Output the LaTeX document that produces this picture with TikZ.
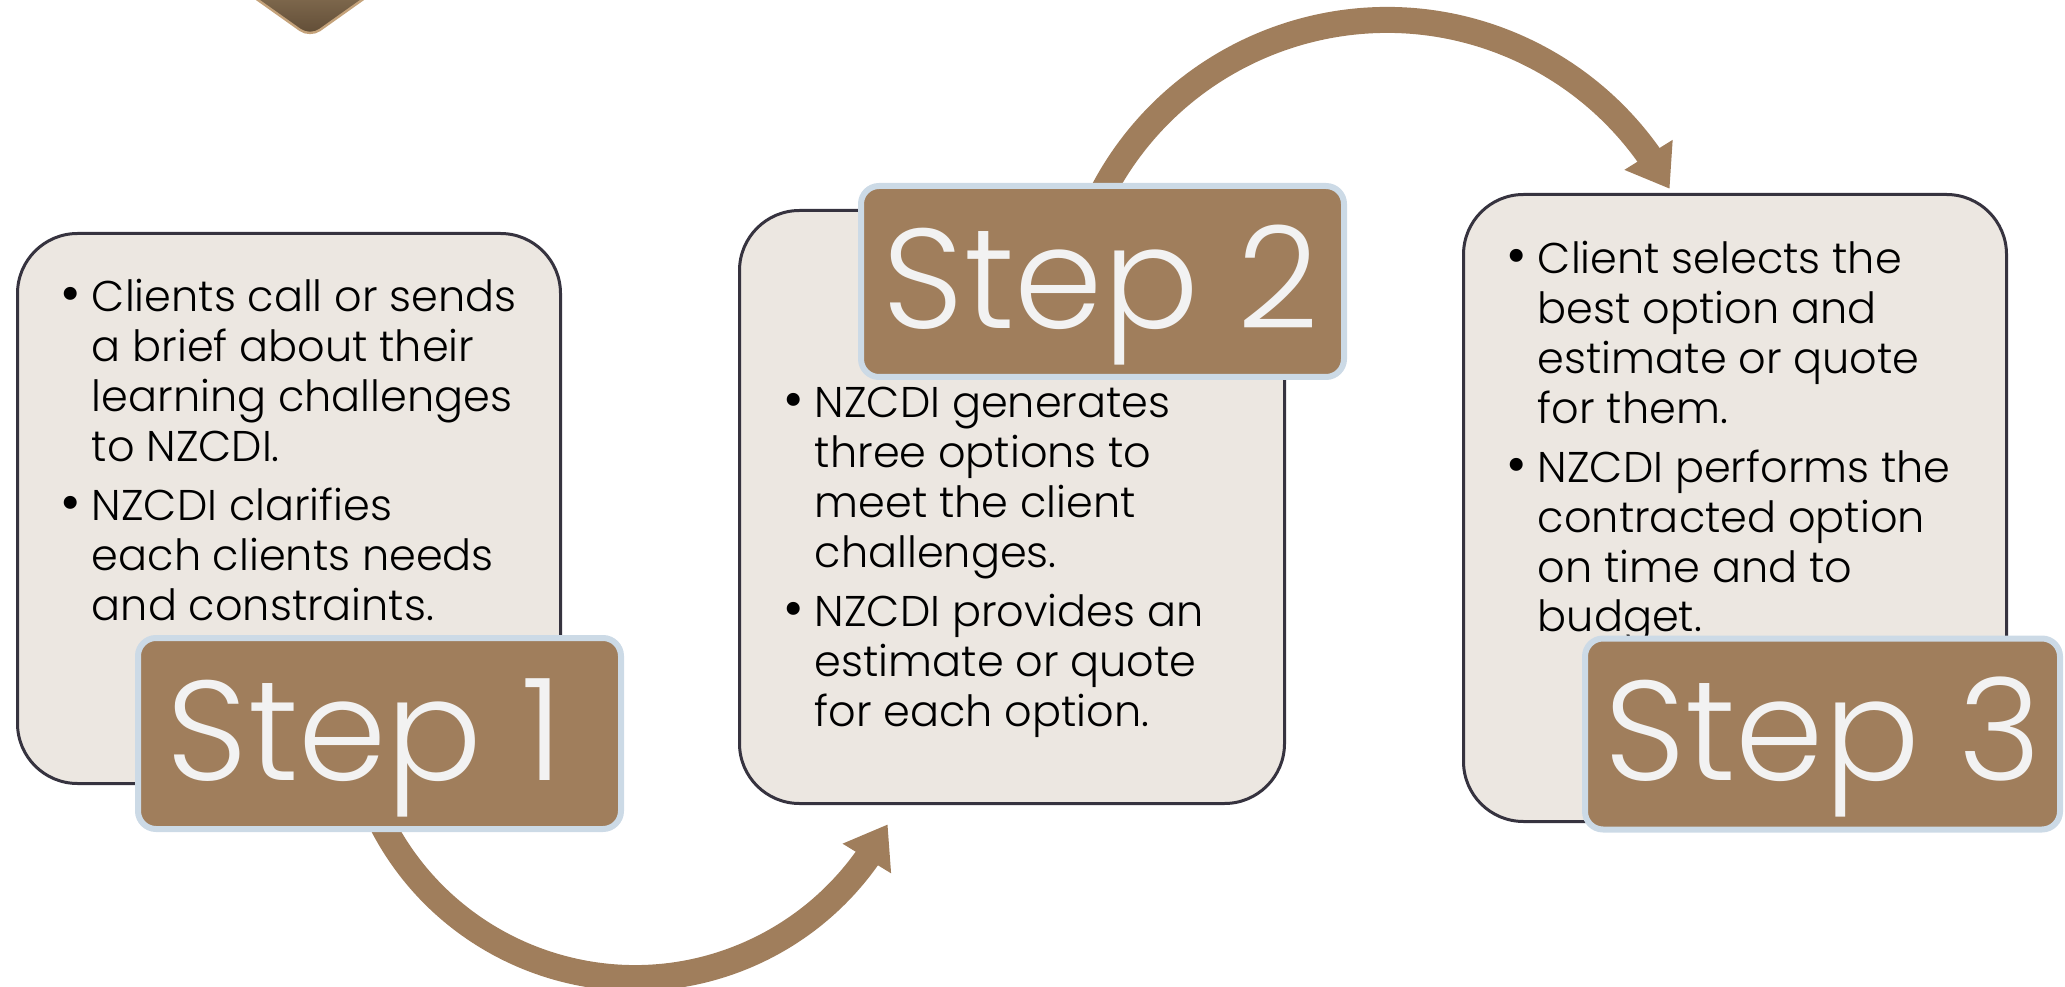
\documentclass[tikz,border=0pt]{standalone}
\usepackage{fontspec}
\setmainfont{Poppins Light}
\newfontfamily\stepfont{Poppins Light}
\usetikzlibrary{arrows.meta,bending,calc}
\definecolor{stepfill}{HTML}{A07E5C}
\definecolor{stepborder}{HTML}{CCDAE6}
\definecolor{boxfill}{HTML}{ECE7E1}
\definecolor{boxline}{HTML}{36333F}
\definecolor{steptext}{HTML}{F2F2F2}
\definecolor{woodA}{HTML}{5F4B35}
\definecolor{woodB}{HTML}{9E8665}
\definecolor{woodline}{HTML}{C4A27A}
\newcommand{\bitem}{\makebox[14.75pt][l]{\hspace*{-1.2pt}\raisebox{-0.5pt}{\scalebox{1.3}{\textbullet}}}}
\newcommand{\bgap}{\hspace*{14.75pt}}
\begin{document}
\begin{tikzpicture}[x=0.5pt,y=0.5pt,
  infobox/.style={draw=boxline, line width=1.5pt, fill=boxfill, rounded corners=30pt, inner sep=0pt},
  stepbox/.style={draw=stepborder, line width=3pt, fill=stepfill, rounded corners=9pt, inner sep=0pt, minimum width=241.5pt, minimum height=95.5pt},
  steplabel/.style={anchor=base, inner sep=0pt, text=steptext, font=\stepfont\fontsize{71}{71}\selectfont},
  bullets/.style={anchor=base west, inner sep=0pt, font=\fontsize{21.5}{24.85}\selectfont},
  flow/.style={draw=stepfill, line width=13pt, -{Triangle[length=20pt,width=27pt]}}
]
\useasboundingbox (0,0) rectangle (2065,986);
\begin{scope}
\clip (0,0) rectangle (2065,986);
% decorative wooden corner at the top
\draw[draw=woodline, line width=1.2pt, rounded corners=6pt, top color=woodB, bottom color=woodA]
  (196,1030) -- (310,949) -- (424,1030) -- cycle;

% content boxes
\node[infobox, minimum width=271.5pt, minimum height=275pt] (b1) at (289,477.5) {};
\node[infobox, minimum width=272.5pt, minimum height=296.5pt] (b2) at (1012,479) {};
\node[infobox, minimum width=271.5pt, minimum height=313.5pt] (b3) at (1735,478) {};

% bullet texts
\node[bullets] (t1) at (62,674) {\begin{tabular}[t]{@{}l@{}}
\bitem Clients call or sends\\
\bgap a brief about their\\
\bgap learning challenges\\
\bgap to NZCDI.\\[5pt]
\bitem NZCDI clarifies\\
\bgap each clients needs\\
\bgap and constraints.
\end{tabular}};
\node[bullets] (t2) at (785,568) {\begin{tabular}[t]{@{}l@{}}
\bitem NZCDI generates\\
\bgap three options to\\
\bgap meet the client\\
\bgap challenges.\\[5pt]
\bitem NZCDI provides an\\
\bgap estimate or quote\\
\bgap for each option.
\end{tabular}};
\node[bullets] (t3) at (1508,712) {\begin{tabular}[t]{@{}l@{}}
\bitem Client selects the\\
\bgap best option and\\
\bgap estimate or quote\\
\bgap for them.\\[5pt]
\bitem NZCDI performs the\\
\bgap contracted option\\
\bgap on time and to\\
\bgap budget.
\end{tabular}};

% curved connectors
\coordinate (c1) at (635,292.6);
\coordinate (c2) at (1387,645);
\coordinate (a1s) at ($(c1)+(205:284.6)$);
\coordinate (a2s) at ($(c2)+(155:321)$);
\draw[flow] (a1s) arc[start angle=205, end angle=332.6, radius=142.3pt];
\draw[flow] (a2s) arc[start angle=155, end angle=28.3, radius=160.5pt];

% step labels
\node[stepbox] (s1) at (379.5,252.5) {};
\node[stepbox] (s2) at (1102.5,704.5) {};
\node[stepbox, minimum width=237.5pt] (s3) at (1822.5,252) {};
\node[steplabel] (l1) at (365,206) {Step 1};
\node[steplabel] (l2) at (1101,657) {Step 2};
\node[steplabel] (l3) at (1823,206) {Step 3};
\end{scope}
\end{tikzpicture}
\end{document}
